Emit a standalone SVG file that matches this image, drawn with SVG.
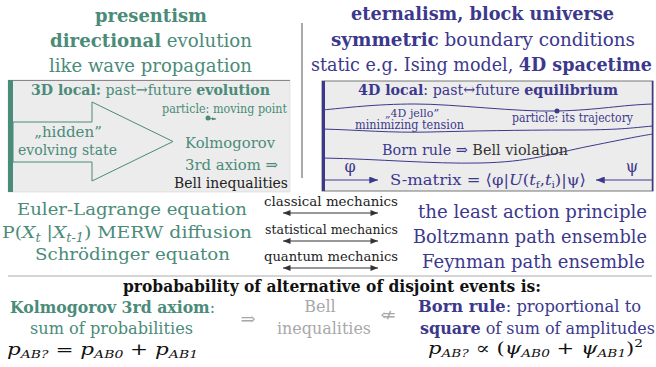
<svg xmlns="http://www.w3.org/2000/svg" width="656" height="367" viewBox="0 0 656 367">
<style>
text{font-family:"DejaVu Serif","Liberation Serif",serif;}
.g{fill:#4a8b79}
.p{fill:#3c388c}
.k{fill:#222}
.gr{fill:#a8a8a8}
.b{font-weight:bold}
.i{font-style:italic}
.c{text-anchor:middle}
.wave{fill:none;stroke:#3c388c;stroke-width:1}
.dbl{stroke:#333;stroke-width:1;marker-start:url(#ak);marker-end:url(#ak)}
.top{font-size:18.5px}
.mid{font-size:17.5px}
.bot{font-size:16px}
</style>
<defs>
<marker id="ak" viewBox="0 0 10 8" refX="10" refY="4" markerWidth="8" markerHeight="6" orient="auto-start-reverse" markerUnits="userSpaceOnUse"><path d="M0,0L10,4L0,8z" fill="#333"/></marker>
<marker id="ap" viewBox="0 0 10 8" refX="10" refY="4" markerWidth="10" markerHeight="7" orient="auto" markerUnits="userSpaceOnUse"><path d="M0,0L10,4L0,8z" fill="#3c388c"/></marker>
<marker id="ag" viewBox="0 0 10 8" refX="10" refY="4" markerWidth="4" markerHeight="4" orient="auto" markerUnits="userSpaceOnUse"><path d="M0,0L10,4L0,8z" fill="#4a8b79"/></marker>
</defs>

<g id="presentism-header" class="top g">
<text x="95" y="22" class="b" textLength="112" lengthAdjust="spacingAndGlyphs">presentism</text>
<text x="50" y="47" textLength="202" lengthAdjust="spacingAndGlyphs"><tspan class="b">directional</tspan> evolution</text>
<text x="49" y="72" textLength="203" lengthAdjust="spacingAndGlyphs">like wave propagation</text>
</g>

<g id="eternalism-header" class="top p">
<text x="351" y="20" class="b" textLength="263" lengthAdjust="spacingAndGlyphs">eternalism, block universe</text>
<text x="331" y="46" textLength="304" lengthAdjust="spacingAndGlyphs"><tspan class="b">symmetric</tspan> boundary conditions</text>
<text x="311" y="71" textLength="341" lengthAdjust="spacingAndGlyphs">static e.g. Ising model, <tspan class="b">4D spacetime</tspan></text>
</g>

<line id="divider" x1="302" y1="23" x2="302" y2="178" stroke="#555" stroke-width="1"/>

<g id="box-3d">
<rect x="8" y="80" width="282" height="112" fill="#ececec" stroke="#d0d0d0" stroke-width="0.5"/>
<line x1="8" y1="80.5" x2="290" y2="80.5" stroke="#888" stroke-width="1"/>
<rect x="8" y="80" width="5" height="112" fill="#4a8b79"/>
<polygon points="13,122 92,122 92,102 173,141.5 92,181 92,162 13,162" fill="none" stroke="#4a8b79" stroke-width="1"/>
<text x="31" y="95" class="g" font-size="15.5" textLength="239" lengthAdjust="spacingAndGlyphs"><tspan class="b">3D local:</tspan> past→future <tspan class="b">evolution</tspan></text>
<text x="162" y="113" class="g" font-size="12" textLength="125" lengthAdjust="spacingAndGlyphs">particle: moving point</text>
<circle cx="208" cy="118" r="2.5" fill="#4a8b79"/>
<text x="68" y="137" class="g c" font-size="15">„hidden”</text>
<text x="18" y="155" class="g" font-size="15" textLength="99" lengthAdjust="spacingAndGlyphs">evolving state</text>
<text x="185" y="148" class="g" font-size="15.5" textLength="90" lengthAdjust="spacingAndGlyphs">Kolmogorov</text>
<text x="185" y="170" class="g" font-size="15.5" textLength="93" lengthAdjust="spacingAndGlyphs">3rd axiom ⇒</text>
<text x="174" y="188" class="k" font-size="15.5" textLength="114" lengthAdjust="spacingAndGlyphs">Bell inequalities</text>
</g>

<g id="box-4d">
<rect x="322" y="81" width="331" height="110" fill="#ececec" stroke="#777" stroke-width="1"/>
<line x1="323.5" y1="81" x2="323.5" y2="191" stroke="#3c388c" stroke-width="3"/>
<line x1="652.5" y1="81" x2="652.5" y2="191" stroke="#3c388c" stroke-width="1.5"/>
<path class="wave" d="M322,110 C345,108 375,104 415,104 S515,112 557,111 S620,105 653,104"/>
<path class="wave" d="M322,129 C360,130 390,133 430,132 S520,130 570,130 S630,128 653,126"/>
<path class="wave" d="M322,158 C380,159 430,164 480,163 S550,154 590,146 S640,136 653,134"/>
<circle cx="557" cy="111" r="2.5" fill="#3c388c"/>
<text x="358" y="95" class="p" font-size="15.5" textLength="260" lengthAdjust="spacingAndGlyphs"><tspan class="b">4D local</tspan>: past↔future <tspan class="b">equilibrium</tspan></text>
<text x="412" y="117" class="p c" font-size="11">„4D jello”</text>
<text x="355" y="128.5" class="p" font-size="12" textLength="109" lengthAdjust="spacingAndGlyphs">minimizing tension</text>
<text x="512" y="122" class="p" font-size="12" textLength="121" lengthAdjust="spacingAndGlyphs">particle: its trajectory</text>
<text x="382" y="155" class="p" font-size="15.5" textLength="186" lengthAdjust="spacingAndGlyphs">Born rule ⇒ <tspan fill="#333">Bell violation</tspan></text>
<text x="350" y="172" class="p c" font-size="16">φ</text>
<text x="632" y="172" class="p c" font-size="16">ψ</text>
<text x="390" y="185" class="p" font-size="15.5" textLength="196" lengthAdjust="spacingAndGlyphs">S-matrix = ⟨φ|<tspan class="i">U</tspan>(<tspan class="i">t</tspan><tspan font-size="10" dy="3">f</tspan><tspan dy="-3">,</tspan><tspan class="i">t</tspan><tspan font-size="10" dy="3">i</tspan><tspan dy="-3">)|ψ⟩</tspan></text>
</g>

<g id="connectors">
<line x1="208" y1="118.5" x2="216" y2="119" stroke="#4a8b79" stroke-width="1" marker-end="url(#ag)"/>
<line x1="322" y1="180" x2="378" y2="180" stroke="#3c388c" stroke-width="1" marker-end="url(#ap)"/>
<line x1="653" y1="180" x2="596" y2="180" stroke="#3c388c" stroke-width="1" marker-end="url(#ap)"/>
<line class="dbl" x1="283" y1="213" x2="378" y2="213"/>
<line class="dbl" x1="283" y1="241" x2="378" y2="241"/>
<line class="dbl" x1="283" y1="268" x2="378" y2="268"/>
</g>

<g id="left-equations" class="mid g">
<text x="17" y="215" textLength="230" lengthAdjust="spacingAndGlyphs">Euler-Lagrange equation</text>
<text x="2" y="238" textLength="250" lengthAdjust="spacingAndGlyphs">P(<tspan class="i">X</tspan><tspan class="i" font-size="12" dy="4">t</tspan><tspan dy="-4"> |</tspan><tspan class="i">X</tspan><tspan class="i" font-size="12" dy="4">t-1</tspan><tspan dy="-4">) MERW diffusion</tspan></text>
<text x="35" y="260" textLength="195" lengthAdjust="spacingAndGlyphs">Schrödinger equaton</text>
</g>

<g id="mechanics-labels" class="k" font-size="12.5">
<text x="264" y="206" textLength="134" lengthAdjust="spacingAndGlyphs">classical mechanics</text>
<text x="265" y="234" textLength="133" lengthAdjust="spacingAndGlyphs">statistical mechanics</text>
<text x="264" y="261" textLength="134" lengthAdjust="spacingAndGlyphs">quantum mechanics</text>
</g>

<g id="right-principles" class="p" font-size="18.5">
<text x="418" y="218" textLength="229" lengthAdjust="spacingAndGlyphs">the least action principle</text>
<text x="413" y="243" textLength="234" lengthAdjust="spacingAndGlyphs">Boltzmann path ensemble</text>
<text x="422" y="268" textLength="223" lengthAdjust="spacingAndGlyphs">Feynman path ensemble</text>
</g>

<line id="separator" x1="8" y1="276" x2="652" y2="276" stroke="#aaa" stroke-width="1"/>

<g id="probability-title">
<text x="123" y="292" class="bot b" fill="#111" textLength="418" lengthAdjust="spacingAndGlyphs">probabability of alternative of disjoint events is:</text>
</g>

<g id="kolmogorov" class="bot g">
<text x="10" y="313" textLength="205" lengthAdjust="spacingAndGlyphs"><tspan class="b">Kolmogorov 3rd axiom</tspan>:</text>
<text x="30" y="334" textLength="163" lengthAdjust="spacingAndGlyphs">sum of probabilities</text>
<text x="7" y="355" fill="#111" font-size="17" textLength="191" lengthAdjust="spacingAndGlyphs"><tspan class="i">p</tspan><tspan class="i" font-size="11" dy="3">AB?</tspan><tspan dy="-3"> = </tspan><tspan class="i">p</tspan><tspan class="i" font-size="11" dy="3">AB0</tspan><tspan dy="-3"> + </tspan><tspan class="i">p</tspan><tspan class="i" font-size="11" dy="3">AB1</tspan></text>
</g>

<g id="bell" class="bot gr">
<text x="248" y="325" class="c" font-size="18">⇒</text>
<text x="320" y="312" class="c">Bell</text>
<text x="324" y="334" class="c" textLength="94" lengthAdjust="spacingAndGlyphs">inequalities</text>
<text x="388" y="321" class="c" font-size="18">⇍</text>
</g>

<g id="born" class="bot p">
<text x="418" y="312" textLength="223" lengthAdjust="spacingAndGlyphs"><tspan class="b">Born rule</tspan>: proportional to</text>
<text x="420" y="334" textLength="235" lengthAdjust="spacingAndGlyphs"><tspan class="b">square</tspan> of sum of amplitudes</text>
<text x="428" y="354" fill="#111" font-size="17" textLength="215" lengthAdjust="spacingAndGlyphs"><tspan class="i">p</tspan><tspan class="i" font-size="11" dy="3">AB?</tspan><tspan dy="-3"> ∝ (</tspan><tspan class="i">ψ</tspan><tspan class="i" font-size="11" dy="3">AB0</tspan><tspan dy="-3"> + </tspan><tspan class="i">ψ</tspan><tspan class="i" font-size="11" dy="3">AB1</tspan><tspan dy="-3">)</tspan><tspan font-size="11" dy="-7">2</tspan></text>
</g>
</svg>
